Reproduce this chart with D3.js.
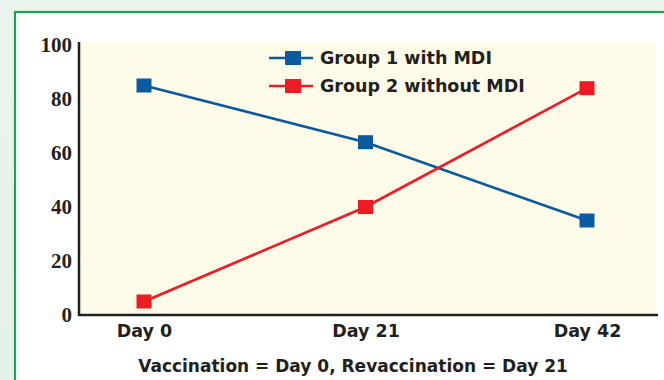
<!DOCTYPE html>
<html><head><meta charset="utf-8">
<script src="https://cdn.jsdelivr.net/npm/d3@7"></script>
<style>html,body{margin:0;padding:0;background:#e8f4ec;}svg{display:block;}</style>
</head><body>
<script>
const categories = ["Day 0", "Day 21", "Day 42"];
const group1 = [85, 64, 35];
const group2 = [5, 40, 84];
const yTicks = [0, 20, 40, 60, 80, 100];
const seriesNames = ["Group 1 with MDI", "Group 2 without MDI"];
const xTitle = "Vaccination = Day 0, Revaccination = Day 21";

const W = 664, H = 380;
const svg = d3.select("body").append("svg").attr("width", W).attr("height", H);

const defs = svg.append("defs");
const g = defs.append("linearGradient").attr("id","bg").attr("x1",0).attr("y1",0).attr("x2",0).attr("y2",1);
g.append("stop").attr("offset","0").attr("stop-color","#eaf5ee");
g.append("stop").attr("offset","1").attr("stop-color","#e4f1e7");
svg.append("rect").attr("width",W).attr("height",H).attr("fill","url(#bg)");
// frame
svg.append("rect").attr("x",15).attr("y",12).attr("width",W+20).attr("height",H+20)
  .attr("fill","#ffffff").attr("stroke","#17a550").attr("stroke-width",2.2);

const plot = {left: 80, right: 656, top: 42, bottom: 315};
const x = d3.scalePoint().domain(categories).range([144, 587]);
const y = d3.scaleLinear().domain([0, 100]).range([plot.bottom, 45]);

svg.append("rect").attr("x",plot.left).attr("y",plot.top)
  .attr("width",plot.right-plot.left).attr("height",plot.bottom-plot.top).attr("fill","#fffbe9");

const font = "'DejaVu Sans', sans-serif";
const fs = 17.5;
// y axis
const yAxis = d3.axisLeft(y).tickValues(yTicks).tickSize(0).tickPadding(7);
const ya = svg.append("g").attr("transform",`translate(${plot.left-1},0)`).call(yAxis);
ya.select(".domain").remove();
ya.selectAll("text").attr("font-family","'Liberation Serif', serif").attr("font-weight","bold")
  .attr("font-size",21).attr("fill","#231f20");
svg.append("line").attr("x1",plot.left-1).attr("x2",plot.left-1).attr("y1",plot.top).attr("y2",plot.bottom+1)
  .attr("stroke","#231f20").attr("stroke-width",2.5);
svg.append("line").attr("x1",plot.left-2).attr("x2",658).attr("y1",plot.bottom).attr("y2",plot.bottom)
  .attr("stroke","#231f20").attr("stroke-width",2.5);

// x axis labels
const xAxis = d3.axisBottom(x).tickSize(0).tickPadding(10);
const xa = svg.append("g").attr("transform",`translate(0,${plot.bottom})`).call(xAxis);
xa.select(".domain").remove();
xa.selectAll("text").attr("font-family",font).attr("font-weight","bold")
  .attr("font-size",fs).attr("fill","#231f20");

svg.append("text").attr("x",353).attr("y",372).attr("text-anchor","middle")
  .attr("font-family",font).attr("font-weight","bold").attr("font-size",17).attr("fill","#231f20")
  .text(xTitle);

const series = [
  {name: seriesNames[0], values: group1, color: "#0a5a9f"},
  {name: seriesNames[1], values: group2, color: "#ed1c24"}
];
const line = d3.line().x((d,i)=>x(categories[i])).y(d=>y(d));
const ms = 15;
series.forEach(s => {
  svg.append("path").attr("d", line(s.values)).attr("fill","none")
    .attr("stroke", s.color).attr("stroke-width", 2.6);
  svg.selectAll(null).data(s.values).enter().append("rect")
    .attr("x",(d,i)=>x(categories[i])-ms/2).attr("y",d=>y(d)-ms/2+0.5)
    .attr("width",ms).attr("height",ms-1).attr("fill",s.color);
});

// legend
const leg = svg.append("g");
series.forEach((s,i) => {
  const ly = 58 + i*28;
  leg.append("line").attr("x1",269).attr("x2",313).attr("y1",ly).attr("y2",ly)
    .attr("stroke",s.color).attr("stroke-width",2.6);
  leg.append("rect").attr("x",285).attr("y",ly-7).attr("width",16).attr("height",14).attr("fill",s.color);
  leg.append("text").attr("x",320).attr("y",ly+6).attr("font-family",font).attr("font-weight","bold")
    .attr("font-size",fs).attr("fill","#231f20").text(s.name);
});
</script>
</body></html>
